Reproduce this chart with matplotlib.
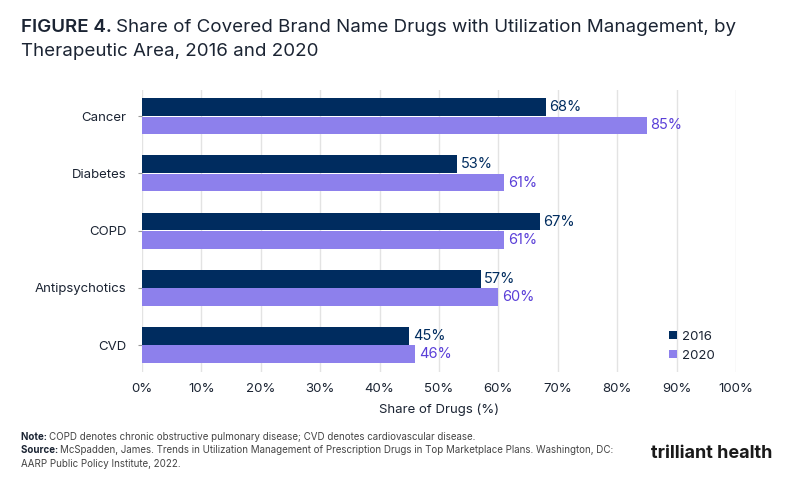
import matplotlib
matplotlib.use("Agg")
import matplotlib.pyplot as plt
import numpy as np

categories = ["Cancer", "Diabetes", "COPD", "Antipsychotics", "CVD"]
values_2016 = [68, 53, 67, 57, 45]
values_2020 = [85, 61, 61, 60, 46]
series_names = ["2016", "2020"]
xticks = [0, 10, 20, 30, 40, 50, 60, 70, 80, 90, 100]

navy = "#002c5f"
purple = "#8d80ec"
purple_text = "#5a3fd8"
text_dark = "#1b2433"

plt.rcParams['font.family'] = ['Inter', 'DejaVu Sans']

fig = plt.figure(figsize=(8, 4.86), dpi=100)
ax = fig.add_axes([0.1775, 0.2346, 0.7425, 0.5804])

y = np.arange(len(categories))
h = 0.31
ax.barh(y - h/2 - 0.005, values_2016, height=h, color=navy, label=series_names[0], zorder=3)
ax.barh(y + h/2 + 0.005, values_2020, height=h, color=purple, label=series_names[1], zorder=3)

for yi, v in zip(y, values_2016):
    ax.text(v + 0.6, yi - h/2 - 0.005, f"{v}%", va="center", ha="left", fontsize=10.5, color=navy)
for yi, v in zip(y, values_2020):
    ax.text(v + 0.6, yi + h/2 + 0.005, f"{v}%", va="center", ha="left", fontsize=10.5, color=purple_text)

ax.set_xlim(0, 100)
ax.set_ylim(4.47, -0.46)
ax.set_yticks(y)
ax.set_yticklabels(categories, fontsize=9.5, color=text_dark)
ax.set_xticks(xticks)
ax.set_xticklabels([f"{t}%" for t in xticks], fontsize=9.5, color=text_dark)
ax.tick_params(axis="x", length=0, pad=8)
ax.tick_params(axis="y", length=3, color="#999999", pad=8)
ax.grid(axis="x", color="#e3e3e3", linewidth=1, zorder=0)
for s in ax.spines.values():
    s.set_visible(False)
ax.set_xlabel("Share of Drugs (%)", fontsize=9.5, color=text_dark, labelpad=6)

leg = ax.legend(loc="lower right", bbox_to_anchor=(0.985, -0.005), frameon=False, fontsize=9.5,
                handlelength=0.6, handleheight=0.6, handletextpad=0.4, labelspacing=0.5)
for t in leg.get_texts():
    t.set_color(text_dark)

renderer = fig.canvas.get_renderer()

def inline(x, yy, parts):
    for txt, kw in parts:
        t = fig.text(x, yy, txt, va="baseline", **kw)
        bb = t.get_window_extent(renderer=renderer)
        x += bb.width / fig.bbox.width

inline(0.026, 0.935, [("FIGURE 4. ", dict(fontsize=13.5, fontweight="semibold", color=text_dark)),
                      ("Share of Covered Brand Name Drugs with Utilization Management, by",
                       dict(fontsize=13.5, color=text_dark))])
fig.text(0.026, 0.885, "Therapeutic Area, 2016 and 2020", fontsize=13.5, color=text_dark, va="baseline")

inline(0.026, 0.095, [("Note: ", dict(fontsize=7, fontweight="bold", color=text_dark)),
                      ("COPD denotes chronic obstructive pulmonary disease; CVD denotes cardiovascular disease.",
                       dict(fontsize=7, color="#444444"))])
inline(0.026, 0.067, [("Source: ", dict(fontsize=7, fontweight="bold", color=text_dark)),
                      ("McSpadden, James. Trends in Utilization Management of Prescription Drugs in Top Marketplace Plans. Washington, DC:",
                       dict(fontsize=7, color="#444444"))])
fig.text(0.026, 0.039, "AARP Public Policy Institute, 2022.", fontsize=7, color="#444444", va="baseline")

fig.text(0.965, 0.058, "trilliant health", fontsize=13, fontweight="bold", color="#1a1a1a", ha="right")

fig.savefig("out.png", dpi=100)
